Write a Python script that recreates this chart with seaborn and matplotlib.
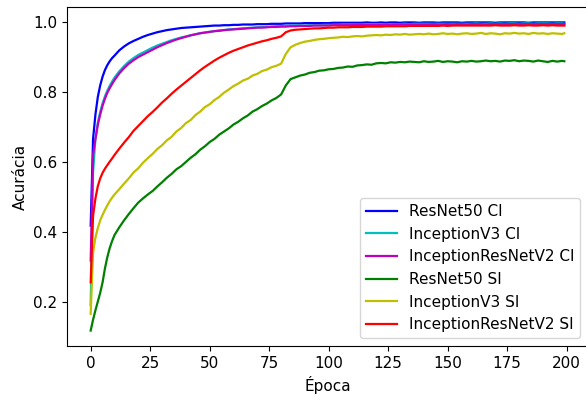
import matplotlib
matplotlib.use("Agg")
import matplotlib.pyplot as plt
import seaborn as sns
import pandas as pd

epochs = list(range(0, 11)) + list(range(12, 199, 2)) + [199]

resnet50_ci = [
    0.417, 0.665, 0.735, 0.785, 0.818, 0.843, 0.862, 0.876, 0.887, 0.896, 0.903,
    0.918, 0.929, 0.938, 0.945, 0.951, 0.957, 0.962, 0.966, 0.970, 0.973,
    0.976, 0.978, 0.980, 0.982, 0.983, 0.984, 0.985, 0.986, 0.987, 0.988,
    0.989, 0.989, 0.990, 0.990, 0.991, 0.991, 0.992, 0.992, 0.992, 0.993,
    0.993, 0.993, 0.994, 0.994, 0.994, 0.995, 0.995, 0.995, 0.995, 0.996,
    0.996, 0.996, 0.996, 0.996,
    0.996, 0.997, 0.997, 0.997, 0.997, 0.997, 0.997, 0.997, 0.998, 0.997,
    0.997, 0.998, 0.997, 0.998, 0.998, 0.997, 0.998, 0.998, 0.998, 0.997,
    0.998, 0.998, 0.998, 0.997, 0.998, 0.998, 0.998, 0.998, 0.997, 0.998,
    0.998, 0.998, 0.998, 0.998, 0.998, 0.997, 0.998, 0.998, 0.998, 0.998,
    0.998, 0.998, 0.997, 0.998, 0.998, 0.998, 0.998, 0.998, 0.998, 0.998,
    0.998,
]

inceptionv3_ci = [
    0.19, 0.57, 0.665, 0.712, 0.742, 0.767, 0.787, 0.803, 0.817, 0.829, 0.84,
    0.858, 0.873, 0.886, 0.896, 0.905, 0.912, 0.919, 0.926, 0.932, 0.937,
    0.942, 0.947, 0.951, 0.955, 0.958, 0.961, 0.964, 0.967, 0.969, 0.971,
    0.973, 0.975, 0.976, 0.978, 0.979, 0.980, 0.981, 0.982, 0.983, 0.984,
    0.985, 0.985, 0.986, 0.987, 0.987, 0.988, 0.988, 0.989, 0.989, 0.989,
    0.990, 0.990, 0.990, 0.991,
    0.991, 0.991, 0.991, 0.992, 0.992, 0.992, 0.992, 0.992, 0.993, 0.993,
    0.993, 0.993, 0.993, 0.993, 0.993, 0.993, 0.994, 0.993, 0.994, 0.994,
    0.994, 0.994, 0.994, 0.994, 0.994, 0.994, 0.994, 0.994, 0.994, 0.994,
    0.994, 0.995, 0.994, 0.994, 0.995, 0.994, 0.995, 0.994, 0.995, 0.995,
    0.994, 0.995, 0.995, 0.994, 0.995, 0.995, 0.995, 0.994, 0.995, 0.995,
    0.994,
]

inceptionresnetv2_ci = [
    0.317, 0.62, 0.665, 0.705, 0.735, 0.76, 0.78, 0.797, 0.81, 0.822, 0.833,
    0.852, 0.867, 0.88, 0.89, 0.899, 0.906, 0.913, 0.92, 0.927, 0.933,
    0.939, 0.944, 0.949, 0.953, 0.957, 0.961, 0.964, 0.967, 0.969, 0.971,
    0.973, 0.974, 0.976, 0.977, 0.978, 0.979, 0.980, 0.981, 0.982, 0.983,
    0.983, 0.984, 0.985, 0.985, 0.986, 0.986, 0.987, 0.987, 0.988, 0.988,
    0.988, 0.989, 0.989, 0.989,
    0.989, 0.990, 0.990, 0.990, 0.990, 0.990, 0.991, 0.991, 0.991, 0.991,
    0.991, 0.991, 0.992, 0.991, 0.992, 0.992, 0.992, 0.992, 0.992, 0.992,
    0.992, 0.992, 0.993, 0.992, 0.992, 0.993, 0.992, 0.993, 0.993, 0.992,
    0.993, 0.993, 0.993, 0.992, 0.993, 0.993, 0.993, 0.993, 0.993, 0.993,
    0.993, 0.993, 0.993, 0.993, 0.993, 0.993, 0.993, 0.993, 0.993, 0.993,
    0.993,
]

resnet50_si = [
    0.117, 0.148, 0.175, 0.2, 0.225, 0.255, 0.295, 0.327, 0.353, 0.373, 0.39,
    0.412, 0.432, 0.45, 0.467, 0.483, 0.495, 0.506, 0.516, 0.529, 0.541,
    0.554, 0.565, 0.578, 0.587, 0.599, 0.611, 0.621, 0.634, 0.644, 0.656,
    0.665, 0.677, 0.686, 0.695, 0.706, 0.714, 0.724, 0.732, 0.743, 0.75,
    0.759, 0.766, 0.775, 0.782, 0.792, 0.818, 0.836, 0.841, 0.846, 0.849,
    0.854, 0.856, 0.86, 0.861,
    0.864, 0.865, 0.868, 0.869, 0.872, 0.871, 0.875, 0.876, 0.878, 0.877,
    0.881, 0.882, 0.881, 0.884, 0.883, 0.885, 0.884, 0.886, 0.885, 0.884,
    0.887, 0.885, 0.886, 0.888, 0.885, 0.887, 0.886, 0.884, 0.887, 0.886,
    0.888, 0.886, 0.887, 0.889, 0.887, 0.888, 0.886, 0.889, 0.888, 0.890,
    0.887, 0.889, 0.888, 0.886, 0.889, 0.887, 0.885, 0.888, 0.886, 0.888,
    0.887,
]

inceptionv3_si = [
    0.165, 0.34, 0.383, 0.41, 0.432, 0.448, 0.462, 0.475, 0.487, 0.497, 0.506,
    0.521, 0.537, 0.552, 0.569, 0.581, 0.597, 0.61, 0.622, 0.636, 0.647,
    0.661, 0.671, 0.686, 0.696, 0.71, 0.719, 0.733, 0.743, 0.756, 0.764,
    0.776, 0.785, 0.797, 0.806, 0.816, 0.823, 0.832, 0.837, 0.846, 0.851,
    0.859, 0.863, 0.87, 0.874, 0.88, 0.908, 0.927, 0.934, 0.939, 0.943,
    0.945, 0.948, 0.95, 0.951,
    0.953, 0.954, 0.955, 0.957, 0.956, 0.958, 0.959, 0.958, 0.96, 0.961,
    0.962, 0.961, 0.963, 0.962, 0.964, 0.963, 0.965, 0.963, 0.964, 0.965,
    0.964, 0.966, 0.964, 0.965, 0.967, 0.965, 0.966, 0.964, 0.966, 0.967,
    0.965, 0.966, 0.968, 0.965, 0.967, 0.966, 0.964, 0.967, 0.966, 0.968,
    0.966, 0.967, 0.965, 0.968, 0.966, 0.967, 0.965, 0.967, 0.966, 0.965,
    0.967,
]

inceptionresnetv2_si = [
    0.255, 0.445, 0.495, 0.53, 0.552, 0.568, 0.58, 0.59, 0.60, 0.609, 0.619,
    0.637, 0.654, 0.67, 0.688, 0.702, 0.716, 0.73, 0.742, 0.755, 0.769,
    0.781, 0.794, 0.806, 0.817, 0.828, 0.839, 0.85, 0.861, 0.871, 0.88,
    0.889, 0.897, 0.904, 0.911, 0.917, 0.922, 0.927, 0.932, 0.936, 0.94,
    0.944, 0.947, 0.951, 0.954, 0.958, 0.97, 0.975, 0.977, 0.978, 0.979,
    0.98, 0.981, 0.981, 0.982,
    0.983, 0.983, 0.984, 0.984, 0.984, 0.985, 0.985, 0.985, 0.986, 0.986,
    0.986, 0.986, 0.987, 0.987, 0.987, 0.987, 0.987, 0.988, 0.988, 0.988,
    0.988, 0.988, 0.988, 0.988, 0.989, 0.988, 0.989, 0.989, 0.989, 0.989,
    0.989, 0.989, 0.989, 0.989, 0.989, 0.990, 0.989, 0.989, 0.989, 0.990,
    0.989, 0.989, 0.990, 0.989, 0.989, 0.990, 0.989, 0.990, 0.989, 0.989,
    0.989,
]

series_names = ["ResNet50 CI", "InceptionV3 CI", "InceptionResNetV2 CI",
                "ResNet50 SI", "InceptionV3 SI", "InceptionResNetV2 SI"]
series_values = [resnet50_ci, inceptionv3_ci, inceptionresnetv2_ci,
                 resnet50_si, inceptionv3_si, inceptionresnetv2_si]
series_colors = ["b", "c", "m", "g", "y", "r"]

plt.rcParams["font.size"] = 11
plt.rcParams["font.family"] = ["DejaVu Sans"]

fig = plt.figure(figsize=(5.86, 3.98), dpi=100)
ax = fig.add_axes([67 / 586, 52 / 398, 521 / 586, 339 / 398])

for name, vals, col in zip(series_names, series_values, series_colors):
    df = pd.DataFrame({"epoch": epochs, "acc": vals})
    sns.lineplot(data=df, x="epoch", y="acc", color=col, label=name,
                 linewidth=1.6, ax=ax)

ax.set_xlabel("Época")
ax.set_ylabel("Acurácia")
ax.set_xticks([0, 25, 50, 75, 100, 125, 150, 175, 200])
ax.set_yticks([0.2, 0.4, 0.6, 0.8, 1.0])
ax.legend(loc="lower right")

fig.savefig("out.png", dpi=100)
